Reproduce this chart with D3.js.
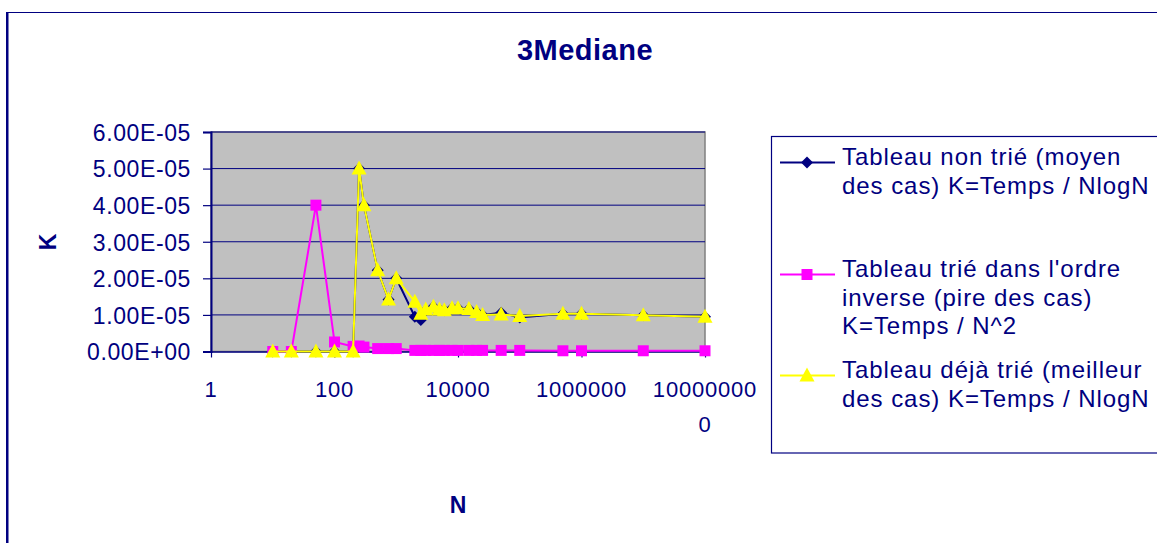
<!DOCTYPE html>
<html>
<head>
<meta charset="utf-8">
<script src="https://cdn.jsdelivr.net/npm/d3@7/dist/d3.min.js"></script>
<style>
  html, body { margin: 0; padding: 0; background: #fff; }
  svg { display: block; }
  text { font-family: "Liberation Sans", Arial, sans-serif; fill: #000080; }
</style>
</head>
<body>
<svg id="chart" width="1157" height="543"></svg>
<script>
// Array sizes N (log axis)
const sizes = [10, 20, 50, 100, 200, 250, 300, 500, 750, 1000, 2000, 2500, 3000, 4000, 5000, 6000, 8000,
               10000, 15000, 20000, 25000, 50000, 100000, 500000, 1000000, 10000000, 100000000];

// K values for each case
const unsortedK = [0, 0, 0, 0, 0, 5.0e-5, 4.0e-5, 2.22e-5, 1.42e-5, 2.0e-5, 0.95e-5, 0.86e-5, 1.12e-5, 1.22e-5,
                   1.15e-5, 1.13e-5, 1.18e-5, 1.18e-5, 1.16e-5, 1.08e-5, 1.0e-5, 1.06e-5, 0.93e-5, 1.03e-5,
                   1.03e-5, 0.99e-5, 0.95e-5];
const reversedK = [0, 0, 4.0e-5, 0.26e-5, 0.14e-5, 0.15e-5, 0.12e-5, 0.08e-5, 0.08e-5, 0.08e-5, 0.03e-5, 0.03e-5,
                   0.03e-5, 0.03e-5, 0.03e-5, 0.03e-5, 0.03e-5, 0.03e-5, 0.03e-5, 0.03e-5, 0.03e-5, 0.03e-5,
                   0.03e-5, 0.02e-5, 0.02e-5, 0.02e-5, 0.02e-5];
const sortedK = [0, 0, 0, 0, 0, 5.0e-5, 4.0e-5, 2.22e-5, 1.42e-5, 2.0e-5, 1.36e-5, 1.03e-5, 1.15e-5, 1.22e-5,
                 1.15e-5, 1.13e-5, 1.18e-5, 1.18e-5, 1.16e-5, 1.08e-5, 1.0e-5, 1.01e-5, 0.97e-5, 1.03e-5,
                 1.03e-5, 0.99e-5, 0.95e-5];

const seriesNames = [
  ["Tableau non trié (moyen", "des cas) K=Temps / NlogN"],
  ["Tableau trié dans l'ordre", "inverse (pire des cas)", "K=Temps / N^2"],
  ["Tableau déjà trié (meilleur", "des cas) K=Temps / NlogN"]
];
const seriesColors = ["#000080", "#FF00FF", "#FFFF00"];
const seriesMarkers = ["diamond", "square", "triangle"];

const xTicks = [1, 100, 10000, 1000000, 100000000];
const xTickLabels = ["1", "100", "10000", "1000000", "100000000"];
const yTicks = [0, 1e-5, 2e-5, 3e-5, 4e-5, 5e-5, 6e-5];

const title = "3Mediane";
const xTitle = "N";
const yTitle = "K";

const svg = d3.select("#chart");

// outer chart frame
svg.append("rect").attr("x", 8).attr("y", 12.5).attr("width", 1200).attr("height", 600)
  .attr("fill", "#fff").attr("stroke", "#000080").attr("stroke-width", 1);
svg.append("line").attr("x1", 7).attr("x2", 7).attr("y1", 12).attr("y2", 543)
  .attr("stroke", "#000080").attr("stroke-width", 2);

const plot = { left: 211, right: 705, top: 132, bottom: 351.5 };

const x = d3.scaleLog().domain([1, 1e8]).range([plot.left, plot.right]);
const y = d3.scaleLinear().domain([0, 6e-5]).range([plot.bottom, plot.top]);

// plot background
svg.append("rect").attr("x", plot.left).attr("y", plot.top)
  .attr("width", plot.right - plot.left).attr("height", plot.bottom - plot.top)
  .attr("fill", "#C0C0C0").attr("stroke", "#808080").attr("stroke-width", 1.5);

// horizontal gridlines
svg.append("g").selectAll("line").data(yTicks.slice(1)).join("line")
  .attr("x1", plot.left).attr("x2", plot.right)
  .attr("y1", d => y(d)).attr("y2", d => y(d))
  .attr("stroke", "#000080").attr("stroke-width", 1);

// exponent format like 6.00E-05
const fmtExp = v => {
  if (v === 0) return "0.00E+00";
  const [m, e] = v.toExponential(2).split("e");
  const ei = parseInt(e, 10);
  return m + "E" + (ei < 0 ? "-" : "+") + String(Math.abs(ei)).padStart(2, "0");
};

// y axis
const yAxis = svg.append("g").attr("transform", `translate(${plot.left},0)`)
  .call(d3.axisLeft(y).tickValues(yTicks).tickFormat(fmtExp).tickSize(8).tickPadding(12));
yAxis.select(".domain").attr("stroke", "#000080").attr("stroke-width", 2);
yAxis.selectAll(".tick line").attr("stroke", "#000080").attr("stroke-width", 1.2);
yAxis.selectAll(".tick text").attr("font-size", 23).attr("letter-spacing", "0.6px")
  .attr("font-family", "Liberation Sans, Arial, sans-serif").attr("fill", "#000080").attr("dy", "0.36em");

// x axis
const xAxis = svg.append("g").attr("transform", `translate(0,${plot.bottom})`)
  .call(d3.axisBottom(x).tickValues(xTicks).tickFormat("").tickSize(6).tickSizeOuter(0));
xAxis.select(".domain").attr("stroke", "#000080").attr("stroke-width", 1.5);
xAxis.selectAll(".tick line").attr("stroke", "#000080").attr("stroke-width", 1.2);

// x tick labels, wrapped after eight characters
const xl = svg.append("g");
xTicks.forEach((t, i) => {
  const s = xTickLabels[i];
  const lines = s.length > 8 ? [s.slice(0, 8), s.slice(8)] : [s];
  const tx = xl.append("text").attr("x", x(t)).attr("y", 397)
    .attr("text-anchor", "middle").attr("font-size", 22).attr("letter-spacing", "0.8px");
  lines.forEach((ln, j) => {
    tx.append("tspan").attr("x", x(t)).attr("dy", j === 0 ? 0 : 35).text(ln);
  });
});

// marker shapes
const markerPath = (type, cx, cy) => {
  if (type === "diamond") return `M${cx},${cy - 6}L${cx + 6},${cy}L${cx},${cy + 6}L${cx - 6},${cy}Z`;
  if (type === "square") return `M${cx - 5.5},${cy - 5.5}h11v11h-11Z`;
  return `M${cx},${cy - 8}L${cx + 7.5},${cy + 6}L${cx - 7.5},${cy + 6}Z`;
};

const allSeries = [unsortedK, reversedK, sortedK];
const line = d3.line().x(d => x(d[0])).y(d => y(d[1]));

allSeries.forEach((vals, si) => {
  const pts = sizes.map((n, i) => [n, vals[i]]);
  const g = svg.append("g");
  g.append("path").attr("d", line(pts)).attr("fill", "none")
    .attr("stroke", seriesColors[si]).attr("stroke-width", 2);
  g.selectAll("path.m").data(pts).join("path").attr("class", "m")
    .attr("d", d => markerPath(seriesMarkers[si], x(d[0]), y(d[1])))
    .attr("fill", seriesColors[si]);
});

// titles
svg.append("text").attr("x", 585).attr("y", 60).attr("text-anchor", "middle")
  .attr("font-size", 29).attr("font-weight", "bold").attr("letter-spacing", "0.5px").text(title);
svg.append("text").attr("x", 458).attr("y", 513).attr("text-anchor", "middle")
  .attr("font-size", 23).attr("font-weight", "bold").text(xTitle);
svg.append("text").attr("transform", "translate(56,242) rotate(-90)").attr("text-anchor", "middle")
  .attr("font-size", 23).attr("font-weight", "bold").text(yTitle);

// legend
const lg = svg.append("g");
lg.append("rect").attr("x", 771.5).attr("y", 136.5).attr("width", 420).attr("height", 316.5)
  .attr("fill", "#fff").attr("stroke", "#000080").attr("stroke-width", 1.2);
const legendTop = [165, 277, 378];
seriesNames.forEach((lines, si) => {
  const by = legendTop[si];
  const sy = by - 2.5;
  lg.append("line").attr("x1", 780).attr("x2", 835).attr("y1", sy).attr("y2", sy)
    .attr("stroke", seriesColors[si]).attr("stroke-width", 2);
  lg.append("path").attr("d", markerPath(seriesMarkers[si], 807, sy)).attr("fill", seriesColors[si]);
  lines.forEach((ln, j) => {
    lg.append("text").attr("x", 842).attr("y", by + j * 28.5)
      .attr("font-size", 24).attr("letter-spacing", "0.95px").text(ln);
  });
});
</script>
</body>
</html>
